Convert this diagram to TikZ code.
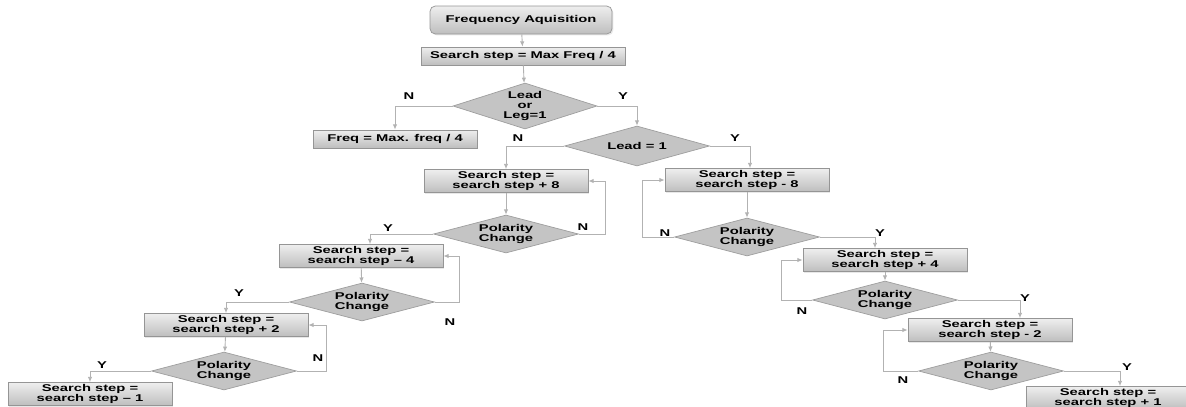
\documentclass[tikz,border=0pt]{standalone}
\usepackage{fontspec}
\setmainfont{Liberation Sans}[FakeStretch=1.5]
\usepackage{xcolor}
\usetikzlibrary{arrows.meta, positioning}
\usetikzlibrary{shapes.geometric}
\usetikzlibrary{shadows}
\definecolor{boxtop}{HTML}{EEEEEE}
\definecolor{boxbot}{HTML}{BEBEBE}
\definecolor{boxline}{HTML}{959595}
\definecolor{diafill}{HTML}{C4C4C4}
\definecolor{dialine}{HTML}{9E9E9E}
\definecolor{lineclr}{HTML}{B2B2B2}

\begin{document}
\begin{tikzpicture}[x=0.02cm, y=-0.02cm,
  every node/.style={font=\fontsize{5.6}{5.9}\selectfont\bfseries, align=center},
  box/.style={rectangle, draw=boxline, top color=boxtop, bottom color=boxbot,
    minimum width=3.28cm, minimum height=0.44cm, inner sep=1pt,
    drop shadow={opacity=0.18, shadow xshift=0.8pt, shadow yshift=-0.8pt}},
  decision/.style={diamond, aspect=3, draw=dialine, fill=diafill, inner sep=0pt,
    minimum width=2.9cm, minimum height=0.76cm},
  lbl/.style={inner sep=0pt},
  line/.style={draw=lineclr, line width=0.5pt, -{Latex[length=3pt,width=2.5pt]}}]
            \useasboundingbox (0,0) rectangle (1186,406);

            \node[box, rounded corners=3pt, minimum width=3.64cm, minimum height=0.56cm] (acq) at (521,20) {Frequency Aquisition};
            \node[box, minimum width=4.08cm, minimum height=0.36cm] (s0) at (523,56) {Search step = Max Freq / 4};
            \node[decision, minimum width=2.88cm, minimum height=0.92cm] (d0) at (525,106) {Lead\\or\\Leg=1};
            \node[box, minimum height=0.36cm] (fq) at (395,139) {Freq = Max. freq / 4};
            \node[decision, minimum height=0.8cm] (d1) at (637,146) {Lead = 1};

            \node[box] (l1) at (506,181) {Search step =\\search step + 8};
            \node[decision] (lp1) at (506,234) {Polarity\\Change};
            \node[box] (l2) at (361,256) {Search step =\\search step – 4};
            \node[decision] (lp2) at (362,302) {Polarity\\Change};
            \node[box] (l3) at (226,325) {Search step =\\search step + 2};
            \node[decision] (lp3) at (224,371) {Polarity\\Change};
            \node[box] (l4) at (90,394) {Search step =\\search step – 1};

            \node[box] (r1) at (747,180) {Search step =\\search step - 8};
            \node[decision] (rp1) at (747,237) {Polarity\\Change};
            \node[box] (r2) at (885,260) {Search step =\\search step + 4};
            \node[decision] (rp2) at (885,300) {Polarity\\Change};
            \node[box] (r3) at (990,330) {Search step =\\search step - 2};
            \node[decision] (rp3) at (991,371) {Polarity\\Change};
            \node[box] (r4) at (1108,398) {Search step =\\search step + 1};

            \draw[line] (acq) -- (s0);
            \draw[line] (s0) -- (d0);
            \draw[line] (d0.west) -| (fq.north);
            \draw[line] (d0.east) -| (d1.north);
            \draw[line] (d1.west) -| (l1.north);
            \draw[line] (d1.east) -| ([xshift=0.06cm]r1.north);

            \draw[line] (l1) -- (lp1);
            \draw[line] (lp1.east) -- ++(27,0) |- (l1.east);
            \draw[line] (lp1.west) -| ([xshift=0.18cm]l2.north);
            \draw[line] (l2) -- (lp2);
            \draw[line] (lp2.east) -- ++(25,0) |- (l2.east);
            \draw[line] (lp2.west) -| (l3.north);
            \draw[line] (l3) -- (lp3);
            \draw[line] (lp3.east) -- ++(30,0) |- (l3.east);
            \draw[line] (lp3.west) -| (l4.north);

            \draw[line] (r1) -- (rp1);
            \draw[line] (rp1.west) -- ++(-32,0) |- (r1.west);
            \draw[line] (rp1.east) -| ([xshift=-0.2cm]r2.north);
            \draw[line] (r2) -- (rp2);
            \draw[line] (rp2.west) -- ++(-31,0) |- (r2.west);
            \draw[line] (rp2.east) -| ([xshift=0.6cm]r3.north);
            \draw[line] (r3) -- (rp3);
            \draw[line] (rp3.west) -- ++(-35,0) |- (r3.west);
            \draw[line] (rp3.east) -| ([xshift=0.24cm]r4.north);

            \node[lbl] (n0) at (409,96) {N};
            \node[lbl] (y0) at (623,96) {Y};
            \node[lbl] (n1) at (518,138) {N};
            \node[lbl] (y1) at (735,138) {Y};
            \node[lbl] (n2) at (583,227) {N};
            \node[lbl] (y2) at (388,228) {Y};
            \node[lbl] (n3) at (450,322) {N};
            \node[lbl] (y3) at (239,293) {Y};
            \node[lbl] (n4) at (318,358) {N};
            \node[lbl] (y4) at (102,365) {Y};
            \node[lbl] (n5) at (665,233) {N};
            \node[lbl] (y5) at (880,233) {Y};
            \node[lbl] (n6) at (802,311) {N};
            \node[lbl] (y6) at (1025,298) {Y};
            \node[lbl] (n7) at (903,380) {N};
            \node[lbl] (y7) at (1127,367) {Y};
        \end{tikzpicture}
\end{document}
